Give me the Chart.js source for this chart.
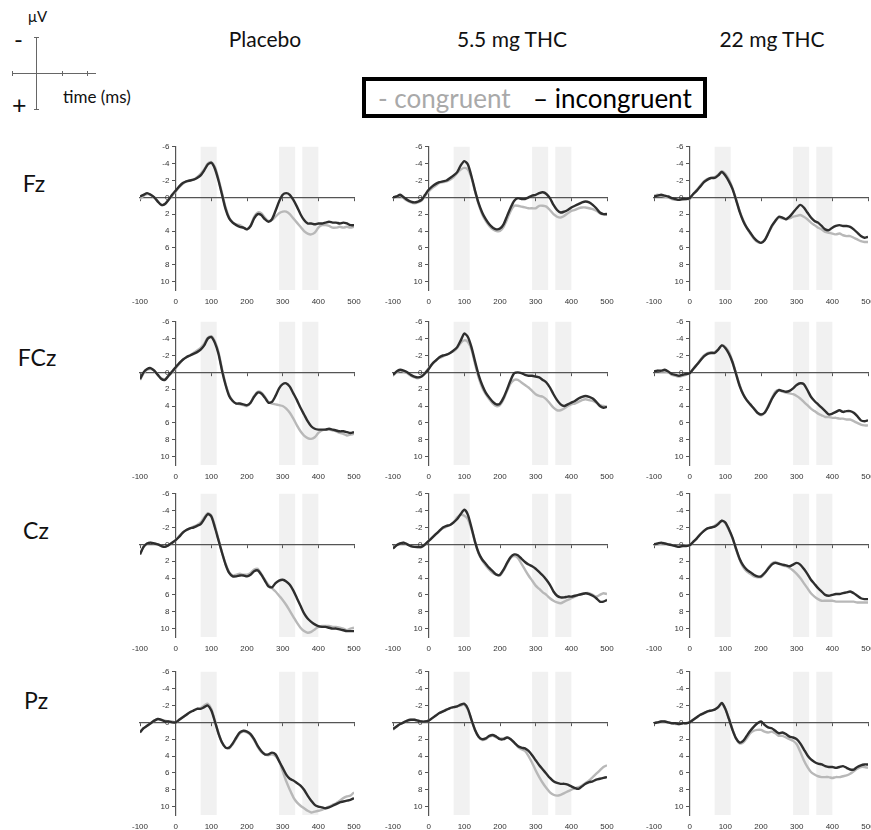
<!DOCTYPE html>
<html lang="en">
<head>
    <meta charset="UTF-8">
    <title>ERP waveforms by condition</title>
    <script src="https://cdn.jsdelivr.net/npm/chart.js"></script>
    <style>
        body { margin: 0; background: #fff; }
        #page { position: relative; width: 871px; height: 830px; overflow: hidden; font-family: Lato, "Open Sans", sans-serif; }
        .txt { position: absolute; white-space: nowrap; line-height: 1; color: #111; }
        .ln { position: absolute; background: #666; }
        canvas { position: absolute; }
        #legend { position: absolute; left: 362px; top: 77px; width: 337px; height: 33px; border: 4px solid #000; }
    </style>
</head>
<body>
<div id="page"></div>

<script>
    // time axis (ms) and ticks
    const times = [-100,-90,-80,-70,-60,-50,-40,-30,-20,-10,0,10,20,30,40,50,60,70,80,90,100,110,120,130,140,150,160,170,180,190,200,210,220,230,240,250,260,270,280,290,300,310,320,330,340,350,360,370,380,390,400,410,420,430,440,450,460,470,480,490,500];
    const xTicks = [-100, 0, 100, 200, 300, 400, 500];
    const yTicks = [-6, -4, -2, 0, 2, 4, 6, 8, 10];
    const bands = [[70, 115], [290, 335], [355, 400]];

    const conditions = ['Placebo', '5.5 mg THC', '22 mg THC'];
    const sites = ['Fz', 'FCz', 'Cz', 'Pz'];

    // Fz
    const fzPlaceboInc = [-0.1,-0.3,-0.5,-0.3,0.0,0.5,0.9,0.8,0.3,-0.3,-0.8,-1.3,-1.7,-1.9,-2.0,-2.1,-2.3,-2.6,-3.2,-3.9,-4.1,-3.4,-2.0,-0.3,1.4,2.5,3.0,3.3,3.5,3.6,3.8,3.4,2.5,2.0,2.1,2.6,2.9,2.6,1.6,0.5,-0.3,-0.5,-0.3,0.3,1.1,2.0,2.7,3.1,3.1,3.2,3.1,3.1,3.0,2.9,3.0,3.0,3.1,3.0,3.1,3.3,3.3];
    const fzPlaceboCon = [0.2,-0.2,-0.4,-0.3,0.0,0.5,0.9,0.8,0.3,-0.2,-0.7,-1.2,-1.6,-1.9,-2.0,-2.1,-2.4,-2.8,-3.3,-4.0,-4.2,-3.6,-2.2,-0.5,1.2,2.4,3.0,3.2,3.3,3.6,3.8,3.4,2.3,1.8,1.9,2.4,2.8,2.7,2.3,1.9,1.7,1.7,2.0,2.5,3.0,3.5,4.0,4.3,4.4,4.2,3.6,3.3,3.3,3.4,3.6,3.6,3.5,3.6,3.5,3.6,3.5];
    const fzLowInc = [0.0,-0.1,-0.3,0.0,0.3,0.5,0.6,0.5,0.3,-0.3,-0.9,-1.3,-1.6,-1.8,-1.9,-2.0,-2.3,-2.6,-3.0,-3.8,-4.3,-3.9,-2.5,-0.8,0.7,1.8,2.6,3.2,3.6,3.8,3.7,3.2,2.2,1.2,0.4,0.1,0.2,0.2,0.0,-0.2,-0.3,-0.5,-0.6,-0.4,0.1,0.9,1.5,1.8,1.7,1.5,1.2,1.0,0.8,0.6,0.5,0.6,0.9,1.3,1.8,2.0,2.0];
    const fzLowCon = [0.0,-0.1,-0.2,0.1,0.4,0.6,0.7,0.6,0.4,-0.2,-0.7,-1.1,-1.4,-1.7,-1.8,-1.9,-2.1,-2.4,-2.9,-3.3,-3.5,-3.3,-2.3,-0.7,0.8,2.0,2.8,3.4,3.8,4.0,4.0,3.5,2.6,1.6,1.0,1.0,1.1,1.2,1.3,1.3,1.3,1.0,1.0,1.1,1.5,2.0,2.3,2.4,2.2,1.9,1.6,1.5,1.3,1.2,1.2,1.3,1.4,1.6,1.9,2.0,1.9];
    const fzHighInc = [-0.1,-0.2,-0.3,-0.2,-0.1,0.1,0.2,0.3,0.2,0.2,0.1,-0.4,-0.8,-1.3,-1.8,-2.1,-2.3,-2.3,-2.6,-3.0,-2.6,-1.9,-1.0,0.3,1.7,2.8,3.6,4.2,4.8,5.2,5.4,5.1,4.3,3.4,2.8,2.3,2.4,2.6,2.3,1.8,1.3,0.9,1.2,1.8,2.4,2.8,3.0,3.4,3.8,3.9,3.6,3.4,3.3,3.4,3.4,3.5,3.8,4.2,4.6,4.8,4.7];
    const fzHighCon = [-0.2,-0.3,-0.2,-0.1,0.0,0.2,0.3,0.3,0.3,0.2,0.2,-0.4,-0.9,-1.4,-1.9,-2.2,-2.3,-2.4,-2.7,-3.1,-2.8,-2.1,-1.1,0.2,1.6,2.7,3.6,4.3,4.9,5.3,5.4,5.1,4.3,3.5,2.8,2.4,2.5,2.6,2.5,2.3,2.2,2.1,2.3,2.6,3.0,3.3,3.6,3.8,4.1,4.2,4.3,4.4,4.3,4.5,4.6,4.6,4.8,5.0,5.2,5.3,5.3];

    // FCz
    const fczPlaceboInc = [0.8,0.0,-0.4,-0.5,-0.2,0.3,0.8,0.9,0.4,-0.1,-0.6,-1.1,-1.5,-1.8,-2.0,-2.2,-2.4,-2.7,-3.2,-4.0,-4.2,-3.5,-2.2,-0.2,1.5,2.8,3.4,3.7,3.7,3.8,3.9,3.6,2.9,2.4,2.5,3.0,3.6,3.5,2.8,1.9,1.4,1.3,1.7,2.5,3.3,4.2,5.0,5.8,6.4,6.7,6.8,6.8,6.8,6.7,6.8,6.9,7.0,7.0,7.1,7.2,7.1];
    const fczPlaceboCon = [0.9,0.1,-0.3,-0.4,-0.2,0.3,0.7,0.8,0.4,0.0,-0.5,-1.0,-1.5,-1.8,-2.0,-2.3,-2.6,-2.9,-3.4,-4.1,-4.3,-3.7,-2.4,-0.4,1.4,2.7,3.4,3.7,3.8,3.9,4.0,3.6,2.8,2.3,2.4,2.9,3.5,3.7,3.8,3.9,4.0,4.3,4.8,5.5,6.3,7.0,7.5,7.8,7.9,7.7,7.2,6.9,6.8,6.8,6.9,7.0,7.2,7.3,7.5,7.4,7.3];
    const fczLowInc = [0.3,-0.1,-0.3,-0.2,0.0,0.3,0.5,0.6,0.5,0.1,-0.4,-1.0,-1.4,-1.8,-2.0,-2.1,-2.3,-2.6,-3.0,-3.8,-4.6,-4.2,-3.0,-1.3,0.3,1.5,2.4,3.0,3.5,3.8,3.7,3.0,2.0,0.9,0.1,0.0,0.1,0.3,0.4,0.4,0.5,0.6,0.9,1.2,1.8,2.6,3.3,3.8,4.0,3.8,3.6,3.4,3.1,2.9,2.8,2.9,3.1,3.5,4.0,4.2,4.1];
    const fczLowCon = [0.4,0.0,-0.2,-0.1,0.1,0.4,0.6,0.7,0.5,0.1,-0.5,-1.0,-1.4,-1.7,-1.9,-2.1,-2.3,-2.5,-2.9,-3.5,-3.8,-3.6,-2.7,-1.0,0.6,1.8,2.6,3.2,3.7,4.0,3.9,3.2,2.2,1.3,0.9,0.9,1.2,1.5,1.8,2.2,2.6,2.8,2.9,3.2,3.7,4.2,4.5,4.5,4.3,4.0,3.8,3.7,3.5,3.3,3.2,3.3,3.4,3.6,3.9,4.0,4.1];
    const fczHighInc = [-0.1,-0.2,-0.2,-0.3,-0.1,0.2,0.3,0.4,0.3,0.2,0.1,-0.4,-0.9,-1.4,-1.9,-2.2,-2.3,-2.3,-2.7,-3.2,-2.9,-2.2,-1.2,0.2,1.6,2.6,3.3,3.8,4.3,4.8,5.0,4.8,4.1,3.2,2.5,2.1,2.2,2.3,2.2,1.9,1.5,1.3,1.4,2.1,2.9,3.4,3.8,4.2,4.6,5.0,4.9,4.7,4.5,4.7,4.6,4.6,4.8,5.2,5.7,5.8,5.7];
    const fczHighCon = [-0.1,-0.2,-0.1,-0.1,0.0,0.3,0.4,0.5,0.4,0.3,0.1,-0.4,-0.9,-1.5,-2.0,-2.3,-2.4,-2.4,-2.7,-3.2,-3.0,-2.4,-1.3,0.1,1.5,2.6,3.3,3.8,4.3,4.8,5.1,4.8,4.0,3.1,2.3,2.1,2.3,2.4,2.5,2.6,2.8,3.1,3.5,3.9,4.3,4.6,4.9,5.1,5.3,5.3,5.4,5.4,5.5,5.5,5.6,5.6,5.8,6.0,6.2,6.3,6.3];

    // Cz
    const czPlaceboInc = [1.2,0.3,-0.1,-0.2,-0.1,0.0,0.2,0.3,0.1,-0.2,-0.5,-0.9,-1.4,-1.7,-1.9,-2.0,-2.2,-2.4,-3.0,-3.6,-3.3,-2.0,-0.5,1.0,2.4,3.4,3.8,3.8,3.7,3.7,3.8,3.6,3.2,3.1,3.6,4.3,5.0,5.1,4.6,4.3,4.2,4.4,4.8,5.5,6.4,7.3,8.2,8.8,9.2,9.5,9.7,9.8,9.8,9.9,10.0,10.0,10.1,10.2,10.3,10.3,10.3];
    const czPlaceboCon = [1.1,0.3,-0.1,-0.2,-0.1,0.0,0.2,0.3,0.1,-0.2,-0.5,-1.0,-1.4,-1.7,-1.9,-2.1,-2.3,-2.6,-3.2,-3.7,-3.4,-2.2,-0.6,1.0,2.3,3.3,3.7,3.6,3.5,3.6,3.6,3.4,3.0,2.9,3.5,4.2,4.8,5.2,5.6,6.1,6.6,7.2,7.9,8.6,9.3,9.9,10.3,10.5,10.4,10.1,9.8,9.7,9.7,9.7,9.8,9.8,9.9,10.0,10.2,10.0,9.9];
    const czLowInc = [0.5,0.1,-0.1,-0.2,0.0,0.2,0.3,0.3,0.3,0.0,-0.4,-0.8,-1.2,-1.6,-2.0,-2.2,-2.3,-2.6,-3.0,-3.6,-4.1,-3.5,-2.0,-0.3,1.0,1.8,2.3,2.8,3.2,3.6,3.6,3.0,2.2,1.5,1.2,1.3,1.7,2.1,2.4,2.6,2.9,3.3,3.7,4.2,4.8,5.6,6.1,6.3,6.3,6.2,6.2,6.1,6.0,5.9,5.8,5.9,6.1,6.4,6.8,6.8,6.6];
    const czLowCon = [0.4,0.1,-0.1,-0.2,0.0,0.2,0.3,0.4,0.3,0.0,-0.4,-0.8,-1.2,-1.6,-1.9,-2.1,-2.3,-2.6,-3.2,-3.5,-3.4,-3.0,-1.8,-0.3,1.1,1.9,2.5,3.0,3.4,3.6,3.7,3.1,2.3,1.6,1.4,1.6,2.3,3.0,3.7,4.3,4.9,5.3,5.7,6.0,6.4,6.7,6.9,7.0,6.8,6.6,6.4,6.2,6.0,5.9,5.8,5.8,6.0,6.2,6.0,5.8,5.9];
    const czHighInc = [0.0,-0.1,-0.2,-0.1,0.0,0.1,0.2,0.3,0.2,0.2,0.1,-0.3,-0.7,-1.2,-1.6,-1.9,-2.0,-2.1,-2.4,-2.8,-2.6,-1.8,-0.8,0.5,1.7,2.5,3.0,3.3,3.6,3.8,3.8,3.4,2.9,2.4,2.2,2.3,2.4,2.5,2.6,2.4,2.2,2.4,2.9,3.5,4.2,4.7,5.2,5.6,6.0,6.1,6.0,5.9,5.9,5.8,5.7,5.6,5.8,6.1,6.4,6.5,6.5];
    const czHighCon = [0.1,0.0,-0.1,-0.1,0.0,0.1,0.2,0.2,0.2,0.1,0.1,-0.3,-0.7,-1.2,-1.6,-1.9,-2.0,-2.2,-2.5,-2.8,-2.5,-1.7,-0.7,0.6,1.8,2.7,3.2,3.5,3.8,3.9,3.9,3.5,2.8,2.3,2.1,2.3,2.5,2.6,2.8,3.1,3.5,4.0,4.6,5.2,5.8,6.2,6.5,6.7,6.7,6.7,6.7,6.8,6.8,6.8,6.8,6.8,6.8,6.9,6.9,6.9,6.9];

    // Pz
    const pzPlaceboInc = [1.2,0.7,0.4,0.1,-0.2,-0.4,-0.3,-0.1,-0.1,0.0,0.0,-0.3,-0.6,-0.9,-1.2,-1.4,-1.6,-1.6,-1.8,-2.0,-1.4,-0.1,1.3,2.4,3.0,3.0,2.5,1.8,1.2,1.0,1.1,1.4,2.0,2.8,3.4,3.8,3.8,3.6,3.8,4.6,5.4,6.2,6.7,6.9,7.2,7.5,8.0,8.7,9.3,9.8,10.0,10.1,10.2,10.1,9.9,9.7,9.5,9.4,9.3,9.2,9.0];
    const pzPlaceboCon = [1.1,0.7,0.4,0.1,-0.2,-0.4,-0.3,-0.2,-0.1,-0.1,0.0,-0.3,-0.6,-0.9,-1.2,-1.4,-1.6,-1.7,-2.0,-2.2,-1.6,-0.2,1.3,2.4,3.0,3.1,2.6,1.9,1.3,1.1,1.2,1.5,2.1,2.9,3.5,3.8,3.9,3.8,4.0,4.6,5.8,7.0,8.0,8.9,9.5,9.9,10.2,10.5,10.7,10.6,10.5,10.4,10.2,10.0,9.8,9.6,9.3,9.0,8.8,8.7,8.3];
    const pzLowInc = [0.8,0.5,0.2,0.0,-0.2,-0.3,-0.3,-0.2,-0.1,-0.1,-0.2,-0.5,-0.8,-1.1,-1.3,-1.5,-1.7,-1.8,-1.9,-2.1,-2.2,-1.6,-0.3,0.9,1.7,2.0,1.9,1.6,1.5,1.7,2.0,2.0,1.8,2.0,2.4,2.8,3.0,3.1,3.4,3.9,4.5,5.1,5.6,6.1,6.6,7.0,7.2,7.3,7.3,7.4,7.6,7.8,7.9,7.6,7.3,7.1,7.0,6.8,6.7,6.6,6.5];
    const pzLowCon = [0.9,0.5,0.2,0.0,-0.2,-0.3,-0.3,-0.2,-0.1,-0.1,-0.2,-0.5,-0.8,-1.1,-1.3,-1.5,-1.7,-1.8,-1.9,-2.0,-2.1,-1.5,-0.3,0.9,1.7,2.1,2.0,1.7,1.6,1.8,1.9,1.9,1.8,2.0,2.4,2.9,3.2,3.4,4.0,4.8,5.7,6.5,7.2,7.8,8.3,8.6,8.7,8.6,8.4,8.2,8.0,7.8,7.7,7.5,7.2,6.9,6.5,6.1,5.7,5.3,5.1];
    const pzHighInc = [0.1,0.0,-0.1,-0.1,0.0,0.1,0.1,0.2,0.1,0.1,0.0,-0.3,-0.6,-0.9,-1.1,-1.3,-1.4,-1.5,-1.8,-2.3,-1.6,-0.4,0.9,1.9,2.4,2.2,1.6,1.0,0.5,0.1,-0.1,0.3,0.6,0.7,1.0,1.3,1.2,1.4,1.7,1.8,2.0,2.5,3.2,3.9,4.4,4.7,4.9,5.0,5.2,5.3,5.3,5.4,5.3,5.2,5.4,5.6,5.6,5.3,5.1,5.0,5.0];
    const pzHighCon = [0.1,0.0,-0.1,-0.1,0.0,0.1,0.2,0.2,0.1,0.1,0.0,-0.3,-0.6,-0.9,-1.1,-1.3,-1.4,-1.5,-1.8,-2.2,-1.6,-0.5,0.8,1.9,2.5,2.4,1.9,1.3,1.0,0.9,0.9,1.1,1.2,1.1,1.3,1.6,1.6,1.8,2.0,2.2,2.6,3.5,4.5,5.3,5.9,6.2,6.4,6.5,6.5,6.5,6.6,6.5,6.5,6.4,6.3,6.1,5.8,5.5,5.3,5.3,5.4];

    // rows = sites, columns = conditions, [incongruent, congruent]
    const grid = [
        [[fzPlaceboInc, fzPlaceboCon], [fzLowInc, fzLowCon], [fzHighInc, fzHighCon]],
        [[fczPlaceboInc, fczPlaceboCon], [fczLowInc, fczLowCon], [fczHighInc, fczHighCon]],
        [[czPlaceboInc, czPlaceboCon], [czLowInc, czLowCon], [czHighInc, czHighCon]],
        [[pzPlaceboInc, pzPlaceboCon], [pzLowInc, pzLowCon], [pzHighInc, pzHighCon]]
    ];

    const page = document.getElementById('page');

    function addText(text, x, y, size, opts = {}) {
        const d = document.createElement('div');
        d.className = 'txt';
        d.textContent = text;
        d.style.left = x + 'px';
        d.style.top = y + 'px';
        d.style.fontSize = size + 'px';
        d.style.transform = opts.center ? 'translate(-50%, -50%)' : 'translate(0, -50%)';
        if (opts.color) d.style.color = opts.color;
        (opts.parent || page).appendChild(d);
        return d;
    }

    function addLine(x, y, w, h) {
        const d = document.createElement('div');
        d.className = 'ln';
        Object.assign(d.style, { left: x + 'px', top: y + 'px', width: w + 'px', height: h + 'px' });
        page.appendChild(d);
    }

    // little axis key, top left
    addLine(36, 37, 1, 73);
    addLine(34, 37, 5, 1);
    addLine(34, 109, 5, 1);
    addLine(12, 73, 84, 1);
    addLine(12, 71, 1, 5);
    addLine(62, 71, 1, 5);
    addLine(87, 71, 1, 5);
    addText('\u03bcV', 28, 16, 15);
    addText('-', 14, 39, 24);
    addText('+', 12, 104, 25);
    addText('time (ms)', 63, 96, 17);

    // column titles and row labels
    const titleX = [265, 512, 772];
    conditions.forEach((c, i) => addText(c, titleX[i], 38, 21, { center: true }));
    const siteY = [183, 357, 530, 700];
    const siteX = [34, 37, 36, 36];
    sites.forEach((s, i) => addText(s, siteX[i], siteY[i], 23, { center: true }));

    // legend
    const legend = document.createElement('div');
    legend.id = 'legend';
    page.appendChild(legend);
    addText('- congruent', 12, 17, 26, { color: '#a9a9a9', parent: legend });
    addText('\u2013 incongruent', 167, 17, 26, { color: '#000', parent: legend });

    // shaded windows behind the traces
    const bandPlugin = {
        id: 'bands',
        beforeDraw(chart) {
            const { ctx, chartArea, scales } = chart;
            ctx.save();
            ctx.fillStyle = '#f1f1f1';
            bands.forEach(([a, b]) => {
                const x1 = scales.x.getPixelForValue(a);
                const x2 = scales.x.getPixelForValue(b);
                ctx.fillRect(x1, chartArea.top, x2 - x1, chartArea.bottom - chartArea.top);
            });
            ctx.restore();
        }
    };

    const tickFont = { family: 'Liberation Sans', size: 8 };
    const axisColor = '#555';

    function makePanel(left, top, inc, con) {
        const cv = document.createElement('canvas');
        cv.width = 243;
        cv.height = 169;
        cv.style.left = left + 'px';
        cv.style.top = top + 'px';
        page.appendChild(cv);

        const pts = arr => arr.map((v, i) => ({ x: times[i], y: v }));
        new Chart(cv, {
            type: 'line',
            data: {
                datasets: [
                    { label: 'incongruent', data: pts(inc), borderColor: '#2e2e2e', borderWidth: 2.4, pointRadius: 0, tension: 0.25 },
                    { label: 'congruent', data: pts(con), borderColor: '#b8b8b8', borderWidth: 2.4, pointRadius: 0, tension: 0.25 }
                ]
            },
            options: {
                responsive: false,
                animation: false,
                layout: { padding: { left: 14, right: 14, top: 6, bottom: 0 } },
                plugins: { legend: { display: false }, tooltip: { enabled: false } },
                scales: {
                    x: {
                        type: 'linear', min: -100, max: 500,
                        position: { y: 0 },
                        afterFit: s => { s.height = 0; },
                        afterBuildTicks: s => { s.ticks = xTicks.map(v => ({ value: v })); },
                        border: { color: axisColor, width: 1.2 },
                        grid: { drawOnChartArea: false, color: axisColor, tickLength: 3 },
                        ticks: { display: false }
                    },
                    xb: {
                        type: 'linear', min: -100, max: 500,
                        position: 'bottom',
                        afterFit: s => { s.height = 18; },
                        afterBuildTicks: s => { s.ticks = xTicks.map(v => ({ value: v })); },
                        border: { display: false },
                        grid: { display: false, drawTicks: false },
                        ticks: { font: tickFont, color: '#333', padding: 7, maxRotation: 0, autoSkip: false }
                    },
                    y: {
                        type: 'linear', min: -6, max: 11, reverse: true,
                        position: { x: 0 },
                        afterFit: s => { s.width = 0; },
                        afterBuildTicks: s => { s.ticks = yTicks.map(v => ({ value: v })); },
                        border: { color: axisColor, width: 1.2 },
                        grid: { drawOnChartArea: false, color: axisColor, tickLength: 3 },
                        // labels sit right on the axis when it is placed by value, so pad them with spaces
                        ticks: { font: tickFont, color: '#333', callback: v => v + '\u2002 ' }
                    }
                }
            },
            plugins: [bandPlugin]
        });
    }

    const colZero = [175, 428, 689];
    const rowTop = [145, 320, 492, 670];
    grid.forEach((row, r) => {
        row.forEach(([inc, con], c) => {
            makePanel(Math.round(colZero[c] - 35.8 - 14), rowTop[r] - 6, inc, con);
        });
    });
</script>
</body>
</html>
